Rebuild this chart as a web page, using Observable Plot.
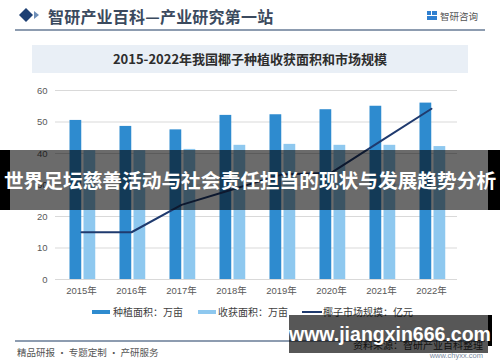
<!DOCTYPE html>
<html>
<head>
<meta charset="utf-8">
<script src="https://cdn.jsdelivr.net/npm/d3@7"></script>
<script src="https://cdn.jsdelivr.net/npm/@observablehq/plot@0.6"></script>
<style>
  html, body { margin: 0; padding: 0; background: #fff; }
  #root { position: relative; width: 500px; height: 362px; overflow: hidden; background: #fff;
          font-family: "Liberation Sans", "Noto Sans CJK SC", sans-serif; }
  .abs { position: absolute; white-space: nowrap; }
  #chart { position: absolute; left: 0; top: 80px; }
</style>
</head>
<body>
<div id="root">
  <!-- header -->
  <svg class="abs" style="left:18px;top:6px" width="26" height="18">
    <polygon points="1,9 8,2 15,9 8,16" fill="#1d3f73"/>
    <polygon points="16,5 21,9 16,13" fill="#6f8fb8"/>
  </svg>
  <div class="abs" style="left:48px;top:4px;font-family:'Noto Sans CJK SC';font-weight:700;font-size:16px;color:#3b4a5e;letter-spacing:0.2px">智研产业百科—产业研究第一站</div>
  <svg class="abs" style="left:427px;top:11px" width="11" height="10">
    <rect x="0" y="0" width="4" height="4" fill="#2f7fd0"/>
    <rect x="5" y="0" width="5" height="4" fill="#2f7fd0"/>
    <rect x="0" y="5" width="10" height="4" fill="#2f7fd0"/>
  </svg>
  <div class="abs" style="left:440px;top:9px;font-family:'Noto Sans CJK SC';font-size:9.5px;color:#555">智研咨询</div>
  <div class="abs" style="left:15px;top:29px;width:470px;height:1.5px;background:#8d9cb0"></div>

  <!-- title box -->
  <div class="abs" style="left:32px;top:45px;width:436px;height:28px;background:#e9eff6"></div>
  <div class="abs" style="left:32px;top:45px;width:436px;height:28px;line-height:28px;text-align:center;font-family:'Noto Sans CJK SC';font-weight:700;font-size:13px;color:#2d2d2d">2015-2022年我国椰子种植收获面积和市场规模</div>

  <div id="chart"></div>

  <!-- legend -->
  <div class="abs" style="left:92px;top:310px;width:18px;height:4px;background:#2e8bcf"></div>
  <div class="abs" style="left:113px;top:304px;font-family:'Noto Sans CJK SC';font-size:10px;color:#404040">种植面积：万亩</div>
  <div class="abs" style="left:198px;top:310px;width:18px;height:4px;background:#8ec8ef"></div>
  <div class="abs" style="left:218px;top:304px;font-family:'Noto Sans CJK SC';font-size:10px;color:#404040">收获面积：万亩</div>
  <div class="abs" style="left:302px;top:311px;width:20px;height:2px;background:#1f3a6e"></div>
  <div class="abs" style="left:323px;top:304px;font-family:'Noto Sans CJK SC';font-size:10px;color:#404040">椰子市场规模：亿元</div>

  <!-- footer -->
  <div class="abs" style="left:15px;top:340px;width:470px;height:2px;background:#8d9cb0"></div>
  <div class="abs" style="left:17px;top:345px;font-family:'Noto Sans CJK SC';font-size:9.5px;color:#555">精品研报 · 专题定制 · 产研服务</div>
  <div class="abs" style="right:17px;top:337px;font-family:'Noto Sans CJK SC';font-size:10px;color:#333">资料来源：智研产业百科整理</div>
  <div class="abs" style="right:17px;top:351px;font-size:7.5px;color:#7a8aa0">www.chyxx.com</div>

  <!-- overlay banner -->
  <div class="abs" style="left:0;top:150px;width:500px;height:60px;background:rgba(0,0,0,0.58)"></div>
  <div class="abs" style="left:0;top:150px;width:10px;height:60px;background:#000"></div>
  <div class="abs" style="left:488px;top:150px;width:12px;height:60px;background:#000"></div>
  <div class="abs" style="left:0;top:150px;width:500px;height:60px;line-height:60px;text-align:center;font-family:'Noto Sans CJK SC';font-weight:700;font-size:19.7px;color:#fff">世界足坛慈善活动与社会责任担当的现状与发展趋势分析</div>

  <!-- watermark box -->
  <div class="abs" style="left:289px;top:315px;width:199px;height:38px;background:rgba(0,0,0,0.66)"></div>
  <div class="abs" style="left:488px;top:315px;width:4px;height:31px;background:#000"></div>
  <div class="abs" style="left:289px;top:315px;width:199px;height:38px;line-height:38px;text-align:center;font-family:'Liberation Sans';font-weight:700;font-size:19.5px;color:#fff">www.jiangxin666.com</div>
</div>
<script>
const years = ["2015年", "2016年", "2017年", "2018年", "2019年", "2020年", "2021年", "2022年"];
const plantingArea = [50.5, 48.6, 47.5, 52.1, 52.3, 53.9, 55.0, 56.0];
const harvestArea = [40.9, 40.9, 41.3, 42.6, 42.9, 42.6, 42.6, 42.2];
const marketSize = [15.0, 15.0, 23.7, 28.5, 33.3, 33.9, 44.1, 54.2];
const yTicks = [0, 10, 20, 30, 40, 50, 60];

const data = years.map((y, i) => ({year: y, planting: plantingArea[i], harvest: harvestArea[i], market: marketSize[i]}));

const chart = Plot.plot({
  width: 500,
  height: 220,
  marginTop: 10,
  marginBottom: 21,
  marginLeft: 55,
  marginRight: 43,
  style: {fontFamily: "'Liberation Sans','Noto Sans CJK SC',sans-serif", fontSize: "9.5px", color: "#595959", background: "transparent"},
  x: {domain: years, padding: 0, label: null},
  y: {domain: [0, 60], label: null},
  marks: [
    Plot.gridY(yTicks, {stroke: "#d9d9d9", strokeOpacity: 1}),
    Plot.axisY(yTicks, {tickSize: 0, tickPadding: 8, label: null}),
    Plot.axisX({tickSize: 0, tickPadding: 8, label: null}),
    Plot.barY(data, {x: "year", y: "planting", fill: "#2e8bcf", insetLeft: 13.5, insetRight: 24.75}),
    Plot.barY(data, {x: "year", y: "harvest", fill: "#8ec8ef", insetLeft: 27.5, insetRight: 10.75}),
    Plot.line(data, {x: "year", y: "market", stroke: "#1f3a6e", strokeWidth: 2})
  ]
});
document.getElementById("chart").appendChild(chart);
</script>
</body>
</html>
